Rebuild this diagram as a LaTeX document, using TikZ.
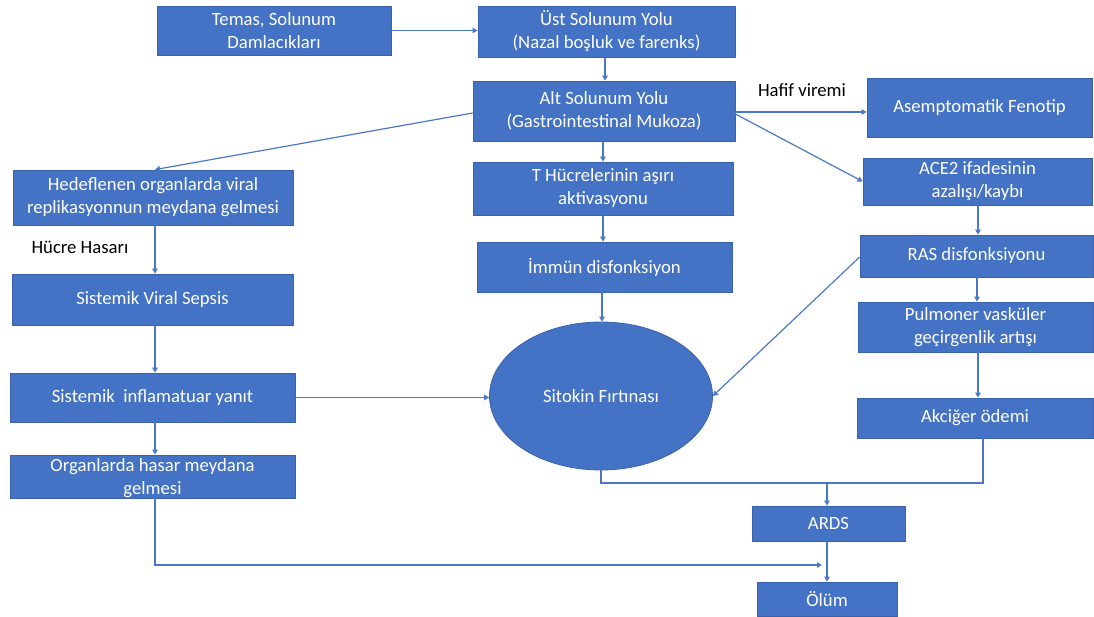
\documentclass[tikz,border=0pt]{standalone}
\usepackage{fontspec}
\setmainfont{Carlito}
\usetikzlibrary{arrows.meta,shadows,shapes.geometric,calc}
\definecolor{boxblue}{HTML}{4472C4}
\definecolor{edgeblue}{HTML}{3A62AA}
\definecolor{lineblue}{HTML}{4A78C8}
\begin{document}
\begin{tikzpicture}[x=1pt,y=-1pt,
  every node/.style={font=\fontsize{18.7}{23}\selectfont},
  box/.style={rectangle, align=center, text=white, inner sep=0pt,
    drop shadow={shadow xshift=1pt, shadow yshift=-1.5pt, opacity=0.28, fill=black},
    preaction={draw=white, line width=4pt},
    fill=boxblue, draw=edgeblue, line width=0.8pt},
  oval/.style={ellipse, align=center, text=white, inner sep=0pt,
    drop shadow={shadow xshift=1pt, shadow yshift=-1.5pt, opacity=0.28, fill=black},
    preaction={draw=white, line width=4pt},
    fill=boxblue, draw=edgeblue, line width=0.8pt},
  conn/.style={draw=lineblue, line width=1.2pt},
  arr/.style={conn, -{Triangle[width=5.5pt,length=5pt]}},
  lbl/.style={text=black, inner sep=0pt}
]
\useasboundingbox (0,0) rectangle (1094,617);

% nodes
\node[box, minimum width=234pt, minimum height=49pt] (temas) at (274,30.5) {Temas, Solunum\\Damlacıkları};
\node[box, minimum width=257pt, minimum height=51pt] (ust) at (606.5,31.5) {Üst Solunum Yolu\\(Nazal boşluk ve farenks)};
\node[box, minimum width=262pt, minimum height=60pt] (alt) at (604,111) {Alt Solunum Yolu\\(Gastrointestinal Mukoza)};
\node[box, minimum width=225pt, minimum height=59pt] (asemp) at (979.5,107.5) {Asemptomatik Fenotip};
\node[box, minimum width=229pt, minimum height=47pt] (ace) at (977.5,181.5) {ACE2 ifadesinin\\azalışı/kaybı};
\node[box, minimum width=280pt, minimum height=55pt] (hedef) at (153,197.5) {Hedeflenen organlarda viral\\replikasyonnun meydana gelmesi};
\node[box, minimum width=260pt, minimum height=53pt] (thuc) at (603,188.5) {T Hücrelerinin aşırı\\aktivasyonu};
\node[box, minimum width=255pt, minimum height=50pt] (immun) at (604.5,267) {İmmün disfonksiyon};
\node[box, minimum width=233pt, minimum height=42pt] (ras) at (976.5,256) {RAS disfonksiyonu};
\node[box, minimum width=281pt, minimum height=51pt] (sepsis) at (152.5,299.5) {Sistemik Viral Sepsis};
\node[box, minimum width=235pt, minimum height=50pt] (pulm) at (975.5,327) {Pulmoner vasküler\\geçirgenlik artışı};
\node[box, minimum width=285pt, minimum height=49pt] (inflam) at (152.5,397.5) {Sistemik\ \ inflamatuar yanıt};
\node[box, minimum width=236pt, minimum height=40pt] (akc) at (975,418) {Akciğer ödemi};
\node[box, minimum width=285pt, minimum height=43pt] (organ) at (152.5,476.5) {};
\node[text=white, align=center, inner sep=0pt] (organtxt) at (152.5,478) {Organlarda hasar meydana\\gelmesi};
\node[oval, minimum width=223pt, minimum height=148pt] (sitokin) at (601,396) {Sitokin Fırtınası};
\node[box, minimum width=153pt, minimum height=35pt] (ards) at (828.5,523.5) {ARDS};
\node[box, minimum width=140pt, minimum height=34pt] (olum) at (827,599) {Ölüm};

% labels
\node[lbl] (hafif) at (802,90) {Hafif viremi};
\node[lbl] (hucre) at (80,247) {Hücre Hasarı};

% helper coordinates
\coordinate (altE1) at ($(alt.east)+(0,1)$);
\coordinate (altE3) at ($(alt.east)+(0,3)$);
\coordinate (altW) at ($(alt.west)+(0,2)$);
\coordinate (rasW) at ($(ras.west)+(0,1)$);

% connectors
\draw[arr] (temas.east) -- (temas.east -| ust.west);
\draw[arr] (ust.south -| 605,0) -- (alt.north -| 605,0);
\draw[arr] (altW) -- (hedef.north -| 155,0);
\draw[arr] (altE1) -- (altE1 -| asemp.west);
\draw[arr] (altE3) -- (ace.west);
\draw[arr] (alt.south -| 603,0) -- (thuc.north -| 603,0);
\draw[arr] (thuc.south -| 603,0) -- (immun.north -| 603,0);
\draw[arr] (immun.south -| 602,0) -- (sitokin.north -| 602,0);
\draw[arr] (hedef.south -| 155,0) -- (sepsis.north -| 155,0);
\draw[arr] (sepsis.south -| 155,0) -- (inflam.north -| 155,0);
\draw[arr] (inflam.south -| 155,0) -- (organ.north -| 155,0);
\draw[arr] (inflam.east) -- (inflam.east -| sitokin.west);
\draw[arr] (ace.south -| 978,0) -- (ras.north -| 978,0);
\draw[arr] (ras.south -| 977,0) -- (pulm.north -| 977,0);
\draw[arr] (pulm.south -| 978,0) -- (akc.north -| 978,0);
\draw[arr] (rasW) -- (sitokin.east);
\coordinate (junc) at (827,483);
\draw[conn] (sitokin.south -| 601,0) -- (601,483) -- (983,483) -- (akc.south -| 983,0);
\draw[arr] (junc) -- (ards.north -| junc);
\draw[arr] (ards.south -| 827,0) -- (olum.north -| 827,0);
\coordinate (deathin) at (822,565);
\draw[arr] (organ.south -| 155,0) -- (155,565) -- (deathin);
\end{tikzpicture}
\end{document}
